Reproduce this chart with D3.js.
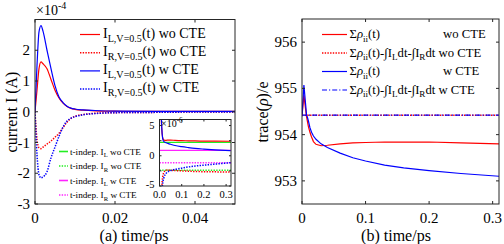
<!DOCTYPE html>
<html>
<head>
<meta charset="utf-8">
<script src="https://cdn.jsdelivr.net/npm/d3@7"></script>
<style>
body { margin: 0; background: #fff; }
svg { display: block; font-family: "Liberation Serif", "DejaVu Serif", serif; }
</style>
</head>
<body>
<svg width="504" height="244"></svg>
<script>
////////////////////////////
// data, panel (a): units of 1e-4 A
////////////////////////////
var aTime  = [0, 0.0005, 0.001, 0.0015, 0.002, 0.003, 0.004, 0.005, 0.006, 0.007, 0.008, 0.009, 0.01, 0.012, 0.015, 0.02, 0.03, 0.04, 0.05]
var aIL_wo = [0, 0.7, 1.4, 1.62, 1.56, 1.4, 1.05, 0.7, 0.45, 0.28, 0.17, 0.11, 0.08, 0.05, 0.03, 0.02, 0.01, 0.01, 0.01]
var aIR_wo = [0, -0.9, -1.17, -1.2, -1.15, -1.05, -0.95, -0.83, -0.7, -0.52, -0.34, -0.22, -0.15, -0.09, -0.05, -0.03, -0.02, -0.01, -0.01]
var aIL_w  = [0, 1.5, 2.6, 2.8, 2.62, 2.0, 1.4, 0.85, 0.48, 0.3, 0.18, 0.12, 0.09, 0.06, 0.04, 0.02, 0.01, 0.01, 0.01]
var aIR_w  = [0, -1.4, -2.05, -2.15, -2.12, -1.95, -1.5, -1.15, -0.8, -0.5, -0.3, -0.21, -0.16, -0.1, -0.06, -0.03, -0.02, -0.01, -0.01]
var aYTicks = [-3, -2, -1, 0, 1, 2]
var aXTicks = [0, 0.02, 0.04]

// inset: units of 1e-6 A
var inTime  = [0.004, 0.008, 0.012, 0.016, 0.02, 0.03, 0.04, 0.05, 0.07, 0.1, 0.13, 0.16, 0.2, 0.25, 0.32]
var inIL_wo = [12, 6, 3.6, 2.8, 2.6, 2.55, 2.6, 2.6, 2.55, 2.5, 2.48, 2.45, 2.43, 2.42, 2.4]
var inIR_wo = [-12, -7, -4.2, -3.2, -2.7, -2.4, -2.35, -2.4, -2.45, -2.5, -2.55, -2.6, -2.63, -2.66, -2.7]
var inIL_w  = [14, 7, 3.6, 2.6, 2.35, 2.15, 2.0, 1.9, 1.7, 1.5, 1.35, 1.22, 1.1, 0.98, 0.85]
var inIR_w  = [-14, -9, -5.5, -4.2, -3.6, -2.9, -2.6, -2.45, -2.25, -2.05, -1.85, -1.7, -1.55, -1.38, -1.15]
var indepTime = [0, 0.322]
var indepIL_wo = [2.2, 2.2]
var indepIR_wo = [-2.4, -2.4]
var indepIL_w  = [0.9, 0.9]
var indepIR_w  = [-1.15, -1.15]
var inYTicks = [-5, 0, 5]
var inXTicks = [0, 0.1, 0.2, 0.3]

////////////////////////////
// data, panel (b)
////////////////////////////
var bTime  = [0, 0.003, 0.007, 0.01, 0.0125, 0.015, 0.018, 0.022, 0.03, 0.04, 0.06, 0.08, 0.1, 0.13, 0.16, 0.2, 0.25, 0.31]
var bTr_wo = [954.4, 954.85, 954.4, 954.18, 954.05, 953.95, 953.85, 953.79, 953.76, 953.77, 953.8, 953.82, 953.83, 953.84, 953.84, 953.84, 953.82, 953.8]
var bTr_w  = [954.4, 955.07, 954.45, 954.3, 954.15, 954.05, 953.97, 953.9, 953.8, 953.72, 953.6, 953.5, 953.43, 953.34, 953.28, 953.22, 953.16, 953.1]
var bConstTime = [0, 0.31]
var bCons_wo = [954.42, 954.42]
var bCons_w  = [954.42, 954.42]
var bYTicks = [953, 954, 955, 956]
var bXTicks = [0, 0.1, 0.2, 0.3]

var svg = d3.select("svg")
svg.append("rect").attr("width", 504).attr("height", 244).attr("fill", "#fff")

var RED = "#ff0000", BLUE = "#0000ff", GREEN = "#22ee22", MAG = "#ff22ff"
var DOT = "1.4,1.3", DASHDOT = "5,2,1.2,2"

function zip(xs, ys) { return xs.map(function(x, i) { return [x, ys[i]] }) }

// writes text with sub/superscripts; parts = [[str, "n"|"sub"|"sup", italic]]
function rich(g, x, y, parts, size, anchor) {
    var t = g.append("text").attr("x", x).attr("y", y)
        .attr("font-size", size).attr("fill", "#000")
        .attr("text-anchor", anchor || "start")
    var shift = 0
    parts.forEach(function(p) {
        var target = p[1] == "sub" ? size * 0.3 : p[1] == "sup" ? -size * 0.4 : 0
        var s = t.append("tspan").attr("dy", target - shift)
            .attr("font-size", p[1] == "n" ? size : size * 0.72)
            .text(p[0])
        if (p[2]) s.attr("font-style", "italic")
        shift = target
    })
    return t
}

function box(g, x, y) {
    var r = x.range(), d = y.range()
    g.append("rect").attr("x", r[0]).attr("y", d[1]).attr("width", r[1] - r[0])
        .attr("height", d[0] - d[1]).attr("fill", "none").attr("stroke", "#262626").attr("stroke-width", 1)
}

function ticks(g, x, y, xt, yt, len) {
    var r = x.range(), d = y.range()
    xt.forEach(function(v) {
        g.append("line").attr("x1", x(v)).attr("x2", x(v)).attr("y1", d[0]).attr("y2", d[0] - len).attr("stroke", "#262626")
        g.append("line").attr("x1", x(v)).attr("x2", x(v)).attr("y1", d[1]).attr("y2", d[1] + len).attr("stroke", "#262626")
    })
    yt.forEach(function(v) {
        g.append("line").attr("y1", y(v)).attr("y2", y(v)).attr("x1", r[0]).attr("x2", r[0] + len).attr("stroke", "#262626")
        g.append("line").attr("y1", y(v)).attr("y2", y(v)).attr("x1", r[1]).attr("x2", r[1] - len).attr("stroke", "#262626")
    })
}

var line = function(x, y) {
    return d3.line().x(function(d) { return x(d[0]) }).y(function(d) { return y(d[1]) }).curve(d3.curveMonotoneX)
}

function strokeW(dash) { return dash == DOT ? 1.5 : 1.2 }

////////////////////////////
// panel (a)
////////////////////////////
var xA = d3.scaleLinear().domain([0, 0.05]).range([35, 235])
var yA = d3.scaleLinear().domain([-3, 3]).range([204, 19.5])

svg.append("clipPath").attr("id", "clipA").append("rect")
    .attr("x", 35).attr("y", 19.5).attr("width", 200).attr("height", 184.5)

var gA = svg.append("g")
var plotA = gA.append("g").attr("clip-path", "url(#clipA)")
var seriesA = [
    { v: aIL_wo, c: RED, dash: null },
    { v: aIR_wo, c: RED, dash: DOT },
    { v: aIL_w, c: BLUE, dash: null },
    { v: aIR_w, c: BLUE, dash: DOT }
]
seriesA.forEach(function(s) {
    plotA.append("path").datum(zip(aTime, s.v)).attr("d", line(xA, yA))
        .attr("fill", "none").attr("stroke", s.c).attr("stroke-width", strokeW(s.dash))
        .attr("stroke-dasharray", s.dash)
})
box(gA, xA, yA)
ticks(gA, xA, yA, aXTicks, aYTicks, 3)

gA.selectAll(".ya").data(aYTicks).enter().append("text")
    .attr("x", 30).attr("y", function(d) { return yA(d) + 5 })
    .attr("text-anchor", "end").attr("font-size", 15).text(function(d) { return String(d) })
gA.selectAll(".xa").data(aXTicks).enter().append("text")
    .attr("x", function(d) { return xA(d) }).attr("y", 223)
    .attr("text-anchor", "middle").attr("font-size", 15).text(function(d) { return d == 0 ? "0" : d })

rich(gA, 36, 15, [["×10", "n"], ["-4", "sup"]], 14)
gA.append("text").attr("transform", "translate(17,112) rotate(-90)")
    .attr("text-anchor", "middle").attr("font-size", 16).text("current I (A)")
gA.append("text").attr("x", 134).attr("y", 240.5)
    .attr("text-anchor", "middle").attr("font-size", 16).text("(a) time/ps")

// legend (a)
var legA = [
    ["L,V=0.5", " wo CTE", RED, null],
    ["R,V=0.5", " wo CTE", RED, DOT],
    ["L,V=0.5", " w CTE", BLUE, null],
    ["R,V=0.5", " w CTE", BLUE, DOT]
]
legA.forEach(function(l, i) {
    var y = 34.5 + i * 18.2
    gA.append("line").attr("x1", 80).attr("x2", 100).attr("y1", y).attr("y2", y)
        .attr("stroke", l[2]).attr("stroke-width", strokeW(l[3])).attr("stroke-dasharray", l[3])
    rich(gA, 103, y + 3, [["I", "n"], [l[0], "sub"], ["(t)" + l[1], "n"]], 14)
})

////////////////////////////
// inset in (a)
////////////////////////////
var xI = d3.scaleLinear().domain([0, 0.322]).range([159.5, 231])
var yI = d3.scaleLinear().domain([-5, 6]).range([186, 119.5])

svg.append("clipPath").attr("id", "clipI").append("rect")
    .attr("x", 159.5).attr("y", 119.5).attr("width", 71.5).attr("height", 66.5)

var gI = svg.append("g")
gI.append("rect").attr("x", 159.5).attr("y", 119.5).attr("width", 71.5).attr("height", 66.5).attr("fill", "#fff")
var plotI = gI.append("g").attr("clip-path", "url(#clipI)")
var seriesI = [
    { t: indepTime, v: indepIL_wo, c: GREEN, dash: null },
    { t: indepTime, v: indepIR_wo, c: GREEN, dash: DOT },
    { t: indepTime, v: indepIL_w, c: MAG, dash: null },
    { t: indepTime, v: indepIR_w, c: MAG, dash: DOT },
    { t: inTime, v: inIL_wo, c: RED, dash: null },
    { t: inTime, v: inIR_wo, c: RED, dash: DOT },
    { t: inTime, v: inIL_w, c: BLUE, dash: null },
    { t: inTime, v: inIR_w, c: BLUE, dash: DOT }
]
seriesI.forEach(function(s) {
    plotI.append("path").datum(zip(s.t, s.v)).attr("d", line(xI, yI))
        .attr("fill", "none").attr("stroke", s.c).attr("stroke-width", strokeW(s.dash))
        .attr("stroke-dasharray", s.dash)
})
box(gI, xI, yI)
ticks(gI, xI, yI, inXTicks, [-5, -2.5, 0, 2.5, 5], 2)
gI.selectAll(".yi").data(inYTicks).enter().append("text")
    .attr("x", 154.5).attr("y", function(d) { return yI(d) + (d == -5 ? 2 : 3.5) })
    .attr("text-anchor", "end").attr("font-size", 10.5).text(function(d) { return String(d) })
gI.selectAll(".xi").data(inXTicks).enter().append("text")
    .attr("x", function(d) { return xI(d) }).attr("y", 198)
    .attr("text-anchor", "middle").attr("font-size", 10.5).text(function(d) { return d.toFixed(1) })
rich(gI, 161, 127, [["×10", "n"], ["-6", "sup"]], 10)

// inset legend
var legI = [["L", " wo CTE", GREEN, null], ["R", " wo CTE", GREEN, DOT], ["L", " w CTE", MAG, null], ["R", " w CTE", MAG, DOT]]
legI.forEach(function(l, i) {
    var y = 151.5 + i * 14.5
    gA.append("line").attr("x1", 59).attr("x2", 68).attr("y1", y).attr("y2", y)
        .attr("stroke", l[2]).attr("stroke-width", 1.6).attr("stroke-dasharray", l[3])
    rich(gA, 70, y + 3, [["t-indep. I", "n"], [l[0], "sub"], [l[1], "n"]], 9.2)
})

////////////////////////////
// panel (b)
////////////////////////////
var xB = d3.scaleLinear().domain([0, 0.31]).range([302, 499])
var yB = d3.scaleLinear().domain([952.5, 956.5]).range([204, 19])

svg.append("clipPath").attr("id", "clipB").append("rect")
    .attr("x", 302).attr("y", 19).attr("width", 197).attr("height", 185)

var gB = svg.append("g")
var plotB = gB.append("g").attr("clip-path", "url(#clipB)")
var seriesB = [
    { t: bTime, v: bTr_wo, c: RED, dash: null },
    { t: bTime, v: bTr_w, c: BLUE, dash: null },
    { t: bConstTime, v: bCons_wo, c: RED, dash: DOT },
    { t: bConstTime, v: bCons_w, c: BLUE, dash: DASHDOT }
]
seriesB.forEach(function(s) {
    plotB.append("path").datum(zip(s.t, s.v)).attr("d", line(xB, yB).curve(d3.curveLinear))
        .attr("fill", "none").attr("stroke", s.c).attr("stroke-width", strokeW(s.dash))
        .attr("stroke-dasharray", s.dash)
})
box(gB, xB, yB)
ticks(gB, xB, yB, bXTicks, bYTicks, 3)
gB.selectAll(".yb").data(bYTicks).enter().append("text")
    .attr("x", 297).attr("y", function(d) { return yB(d) + 5 })
    .attr("text-anchor", "end").attr("font-size", 15).text(function(d) { return d })
gB.selectAll(".xb").data(bXTicks).enter().append("text")
    .attr("x", function(d) { return xB(d) }).attr("y", 223)
    .attr("text-anchor", "middle").attr("font-size", 15).text(function(d) { return d == 0 ? "0" : d })

rich(gB, 0, 0, [["trace(", "n"], ["ρ", "n", true], [")/e", "n"]], 16, "middle")
    .attr("x", null).attr("y", null).attr("transform", "translate(268,112) rotate(-90)")
gB.append("text").attr("x", 396).attr("y", 240.5)
    .attr("text-anchor", "middle").attr("font-size", 16).text("(b) time/ps")

// legend (b)
var sumRho = [["Σ", "n"], ["ρ", "n", true], ["ii", "sub"], ["(t)", "n"]]
var sumRhoInt = sumRho.concat([["-∫I", "n"], ["L", "sub"], ["dt-∫I", "n"], ["R", "sub"], ["dt", "n"]])
var legB = [
    { parts: sumRho, tail: "wo CTE", tx: 443, c: RED, dash: null },
    { parts: sumRhoInt.concat([[" wo CTE", "n"]]), tail: null, c: RED, dash: DOT },
    { parts: sumRho, tail: "w CTE", tx: 443, c: BLUE, dash: null },
    { parts: sumRhoInt.concat([[" w CTE", "n"]]), tail: null, c: BLUE, dash: DASHDOT }
]
legB.forEach(function(l, i) {
    var y = 34.5 + i * 18.5
    gB.append("line").attr("x1", 322).attr("x2", 347).attr("y1", y).attr("y2", y)
        .attr("stroke", l.c).attr("stroke-width", strokeW(l.dash)).attr("stroke-dasharray", l.dash)
    rich(gB, 349.5, y + 3.5, l.parts, 12.7)
    if (l.tail) gB.append("text").attr("x", l.tx).attr("y", y + 3.5).attr("font-size", 12.7).text(l.tail)
})
</script>
</body>
</html>
